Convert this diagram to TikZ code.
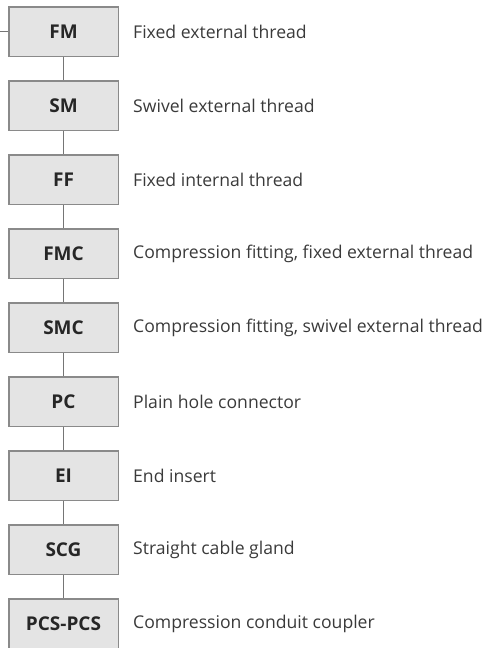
\documentclass[tikz,border=0pt]{standalone}
\usepackage{fontspec}
\setmainfont{Open Sans}
\usetikzlibrary{positioning}
\definecolor{boxfill}{HTML}{E4E4E4}
\definecolor{boxline}{HTML}{8A8A8A}
\definecolor{desctext}{HTML}{3A3A3A}
\tikzset{
  code/.style={draw=boxline, line width=1.5pt, fill=boxfill, minimum width=109.5pt,
    minimum height=49.5pt, inner sep=0pt, text=black!85,
    font=\fontsize{19}{22}\selectfont\bfseries},
  desc/.style={inner sep=0pt, text=desctext, font=\fontsize{17.6}{21}\selectfont},
  link/.style={draw=boxline!85!black, line width=1.2pt}
}
\begin{document}
\begin{tikzpicture}[x=1pt,y=-1pt]
  \useasboundingbox (0,0) rectangle (498,648);
  \clip (0,0) rectangle (498,648);
  % boxes and descriptions
  \foreach \name/\txt [count=\i] in {FM/Fixed external thread,
      SM/Swivel external thread, FF/Fixed internal thread,
      FMC/{Compression fitting, fixed external thread},
      SMC/{Compression fitting, swivel external thread},
      PC/Plain hole connector, EI/End insert,
      SCG/Straight cable gland, PCS-PCS/Compression conduit coupler}
  {
    \node[code] (c\i) at (63.5,{31.5+74*(\i-1)}) {\name};
    \node[desc, right=14pt of c\i] (d\i) {\txt};
  }
  % connectors
  \coordinate (in) at (0,31.5);
  \draw[link] (in) -- (c1);
  \foreach \i [evaluate=\i as \j using int(\i+1)] in {1,...,8}
    \draw[link] (c\i) -- (c\j);
\end{tikzpicture}
\end{document}
